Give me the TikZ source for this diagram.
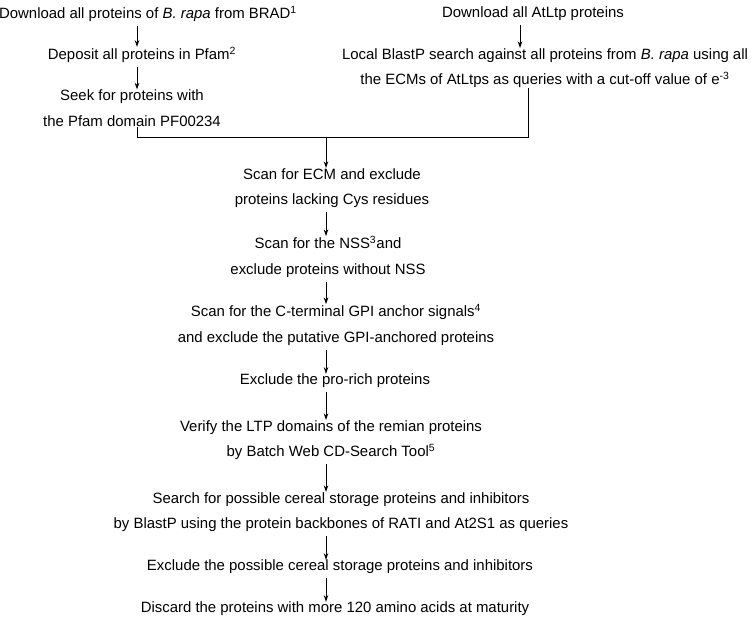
\documentclass[tikz,border=0pt]{standalone}
\usepackage{fontspec}
\setmainfont{Liberation Sans}
\usetikzlibrary{arrows.meta}
\begin{document}
\begin{tikzpicture}[x=0.75pt,y=-0.75pt,
	txt/.style={inner sep=0pt,align=center,font=\fontsize{11.2}{19.2}\selectfont},
	arr/.style={line width=0.6pt,shorten <=3pt,-{Stealth[length=5pt,width=3.4pt]}},
	ln/.style={line width=0.6pt}]
	\useasboundingbox (0,0) rectangle (752,621);
	
	% columns of the connectors
	\coordinate (lx) at (137,0);
	\coordinate (rx) at (520,0);
	\coordinate (col) at (326,0);
	\coordinate (jl) at (137,137);
	\coordinate (jr) at (528,137);
	
	% left branch
	\node[txt] (brad) at (148,14) {Download all proteins of \textit{B. rapa} from BRAD\textsuperscript{1}};
	\node[txt] (pfam) at (142,55) {Deposit all proteins in Pfam\textsuperscript{2}};
	\node[txt] (seek) at (132,108) {Seek for proteins with\\the Pfam domain PF00234};
	
	% right branch
	\node[txt] (atltp) at (533,14) {Download all AtLtp proteins};
	\node[txt] (blast) at (545,68) {Local BlastP search against all proteins from \textit{B. rapa} using all\\the ECMs of AtLtps as queries with a cut-off value of e\textsuperscript{-3}};
	
	% main column
	\node[txt] (ecm) at (332,188) {Scan for ECM and exclude\\proteins lacking Cys residues};
	\node[txt] (nss) at (328,257) {Scan for the NSS\textsuperscript{3}and\\exclude proteins without NSS};
	\node[txt] (gpi) at (336,325) {Scan for the C-terminal GPI anchor signals\textsuperscript{4}\\and exclude the putative GPI-anchored proteins};
	\node[txt] (pro) at (335,381) {Exclude the pro-rich proteins};
	\node[txt] (ltp) at (331,440) {Verify the LTP domains of the remian proteins\\by Batch Web CD-Search Tool\textsuperscript{5}};
	\node[txt] (cereal) at (341,512) {Search for possible cereal storage proteins and inhibitors\\by BlastP using the protein backbones of RATI and At2S1 as queries};
	\node[txt] (excl) at (340,567) {Exclude the possible cereal storage proteins and inhibitors};
	\node[txt] (disc) at (335,609) {Discard the proteins with more 120 amino acids at maturity};
	
	\draw[arr] (brad.south -| lx) -- (pfam.north -| lx);
	\draw[arr] (pfam.south -| lx) -- (seek.north -| lx);
	\draw[arr] (atltp.south -| rx) -- (blast.north -| rx);
	
	\draw[ln] (seek.south -| jl) -- (jl) -- (jr) -- (blast.south -| jr);
	\draw[arr,shorten <=0pt] (jl -| col) -- (ecm.north -| col);
	
	\draw[arr] (ecm.south -| col) -- (nss.north -| col);
	\draw[arr] (nss.south -| col) -- (gpi.north -| col);
	\draw[arr] (gpi.south -| col) -- (pro.north -| col);
	\draw[arr] (pro.south -| col) -- (ltp.north -| col);
	\draw[arr] (ltp.south -| col) -- (cereal.north -| col);
	\draw[arr] (cereal.south -| col) -- (excl.north -| col);
	\draw[arr] (excl.south -| col) -- (disc.north -| col);
	
\end{tikzpicture}
\end{document}
